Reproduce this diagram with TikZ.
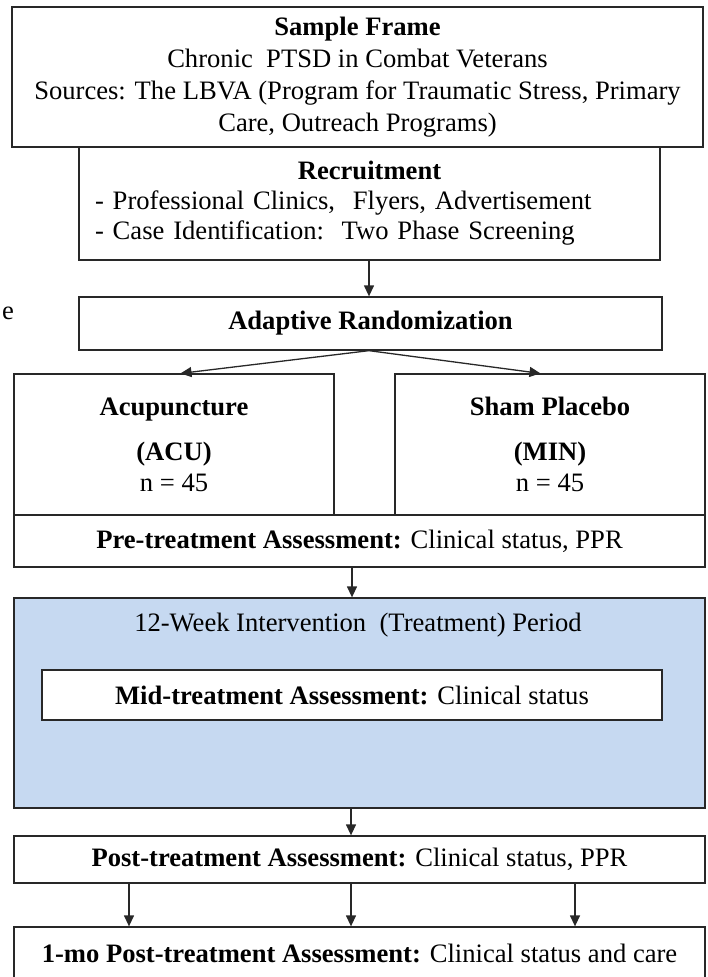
\documentclass[tikz,border=0pt]{standalone}
\usepackage{fontspec}
\setmainfont{Liberation Serif}
\usetikzlibrary{arrows.meta}
\definecolor{bluefill}{RGB}{198,217,241}
\definecolor{edge}{RGB}{40,40,40}
\tikzset{
  box/.style={draw=edge, line width=1.3pt, fill=white, inner sep=0pt, align=center,
              font=\fontsize{26.6}{32}\selectfont},
  txt/.style={inner sep=0pt, align=center, font=\fontsize{26.6}{32}\selectfont},
  arr/.style={draw=edge, line width=1.3pt, -{Triangle[length=11pt,width=10pt]}}
}
\begin{document}
\begin{tikzpicture}[x=1pt,y=-1pt]
\useasboundingbox (0,0) rectangle (707,977);
\clip (0,0) rectangle (707,977);

\node[txt] (frag) at (8,313) {e};

\node[box, minimum width=691pt, minimum height=140pt] (frame) at (357.5,77)
  {\textbf{Sample Frame}\\Chronic\ \ PTSD in Combat Veterans\\Sources: The LBVA (Program for Traumatic Stress, Primary\\Care, Outreach Programs)};

\node[box, minimum width=581pt, minimum height=113pt, text width=549pt, align=left,
      font=\fontsize{26.6}{30}\selectfont] (recruit) at (369.5,203.5)
  {\makebox[549pt][c]{\textbf{Recruitment}}\\- Professional Clinics,\ \ Flyers, Advertisement\\- Case Identification:\ \ Two Phase Screening};

\node[box, minimum width=583pt, minimum height=53pt] (rand) at (370.5,323.5)
  {\textbf{Adaptive Randomization}};

\node[box, minimum width=320pt, minimum height=141pt, font=\fontsize{26.6}{31}\selectfont] (acu) at (174,444.5)
  {\textbf{Acupuncture}\\[14pt]\textbf{(ACU)}\\n = 45};
\node[box, minimum width=310pt, minimum height=141pt, font=\fontsize{26.6}{31}\selectfont] (sham) at (550,444.5)
  {\textbf{Sham Placebo}\\[14pt]\textbf{(MIN)}\\n = 45};

\node[box, minimum width=691pt, minimum height=52pt] (pre) at (359.5,541)
  {\textbf{Pre-treatment Assessment:} Clinical status, PPR};

\node[box, fill=bluefill, minimum width=691pt, minimum height=210pt] (blue) at (359.5,703) {};
\node[txt] (period) at (358,625) {12-Week Intervention\ \ (Treatment) Period};
\node[box, minimum width=620pt, minimum height=50pt] (mid) at (352,695)
  {\textbf{Mid-treatment Assessment:} Clinical status};

\node[box, minimum width=691pt, minimum height=47pt] (post) at (359.5,859.5)
  {\textbf{Post-treatment Assessment:} Clinical status, PPR};

\node[box, minimum width=691pt, minimum height=52pt] (final) at (359.5,953)
  {\textbf{1-mo Post-treatment Assessment:} Clinical status and care};

\draw[arr] ([xshift=-0.5pt]recruit.south) -- ([xshift=-1.5pt]rand.north);
\draw[arr, shorten >=-0.5pt] ([xshift=-1.5pt]rand.south) -- ([xshift=7pt]acu.north);
\draw[arr, shorten >=-0.5pt] ([xshift=-1.5pt]rand.south) -- ([xshift=-10pt]sham.north);
\draw[arr] ([xshift=-7.5pt]pre.south) -- ([xshift=-7.5pt]blue.north);
\draw[arr] ([xshift=-8.5pt]blue.south) -- ([xshift=-8.5pt]post.north);
\draw[arr] ([xshift=-230.5pt]post.south) -- ([xshift=-230.5pt]final.north);
\draw[arr] ([xshift=-8.5pt]post.south) -- ([xshift=-8.5pt]final.north);
\draw[arr] ([xshift=215.5pt]post.south) -- ([xshift=215.5pt]final.north);
\end{tikzpicture}
\end{document}
